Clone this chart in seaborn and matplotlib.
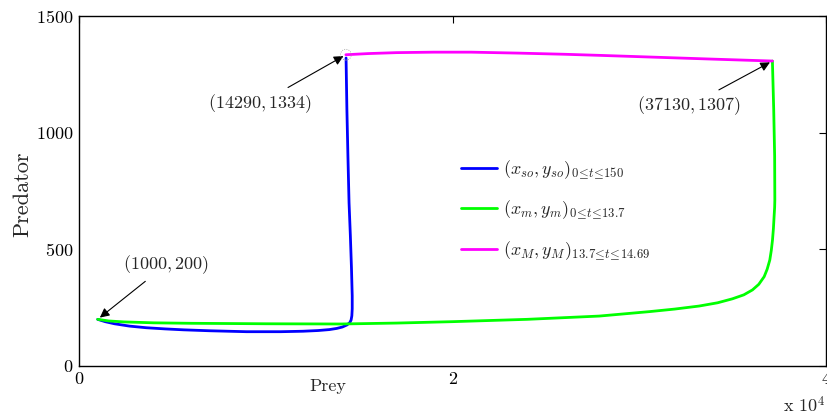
import numpy as np
import pandas as pd
import matplotlib
matplotlib.use("Agg")
import matplotlib.pyplot as plt
import seaborn as sns

# Trajectory of the sustained (so) system, 0 <= t <= 150
so_prey = [1000, 1400, 1900, 2700, 3600, 4600, 5600, 7000, 8970, 10800, 12000,
           12800, 13400, 13800, 14100, 14350, 14500, 14570, 14610, 14630,
           14630, 14590, 14530, 14460, 14400, 14345, 14300]
so_pred = [200, 190, 181, 171, 164, 159, 155, 151, 147, 147, 149,
           152, 156, 161, 167, 176, 186, 197, 215, 245,
           300, 420, 560, 700, 900, 1100, 1320]

# Minimal-trajectory branch, 0 <= t <= 13.7
m_prey = [1000, 1600, 2400, 4000, 6000, 10000, 14000, 17000, 20000, 24000,
          27860, 30540, 31900, 33210, 34200, 34990, 35600, 36060, 36400,
          36690, 36850, 36990, 37070, 37135, 37185, 37220, 37250, 37260,
          37250, 37200, 37130]
m_pred = [200, 193, 189, 185, 183, 181, 180, 184, 190, 200,
          214, 233, 244, 257, 271, 288, 305, 326, 350,
          383, 415, 454, 495, 540, 590, 640, 680, 711,
          900, 1100, 1307]

# Maximal branch, 13.7 <= t <= 14.69
M_prey = [14290, 15500, 17000, 19000, 21000, 23500, 26000, 28000, 31000, 34000, 37130]
M_pred = [1334, 1339, 1343, 1345, 1345, 1341, 1336, 1331, 1323, 1315, 1307]

labels = [r"$(x_{so},y_{so})_{0\!\leq\!t\!\leq\!150}$",
          r"$(x_m,y_m)_{0\!\leq\!t\!\leq\!13.7}$",
          r"$(x_M,y_M)_{13.7\!\leq\!t\!\leq\!14.69}$"]
colors = ["#0000ff", "#00ff00", "#ff00ff"]

x_ticks = [0, 20000, 40000]
x_tick_labels = ["0", "2", "4"]
y_ticks = [0, 500, 1000, 1500]

sns.set_theme(style="white")
plt.rcParams["font.family"] = ["serif"]
plt.rcParams["font.serif"] = ["cmr10", "DejaVu Serif"]
plt.rcParams["mathtext.fontset"] = "cm"
plt.rcParams["axes.formatter.use_mathtext"] = True

fig = plt.figure(figsize=(8.27, 4.17), dpi=100)
ax = fig.add_axes([79 / 827, 51 / 417, 747 / 827, 350 / 417])

frames = [
    pd.DataFrame({"x": so_prey, "y": so_pred}),
    pd.DataFrame({"x": m_prey, "y": m_pred}),
    pd.DataFrame({"x": M_prey, "y": M_pred}),
]
for df, lab, col in zip(frames, labels, colors):
    sns.lineplot(data=df, x="x", y="y", sort=False, estimator=None,
                 color=col, lw=2.0, label=lab, ax=ax)

ax.set_xlim(0, 40000)
ax.set_ylim(0, 1500)
ax.set_xticks(x_ticks)
ax.set_xticklabels(x_tick_labels)
ax.set_yticks(y_ticks)
ax.tick_params(direction="in", length=5, width=0.8, top=True, right=True,
               labelsize=13, colors="black", pad=4)
for s in ax.spines.values():
    s.set_color("black")
    s.set_linewidth(1.0)

ax.set_xlabel("Prey", fontsize=13)
ax.set_ylabel("Predator", fontsize=16)
ax.xaxis.set_label_coords(0.333, -0.035)
ax.yaxis.set_label_coords(-0.062, 0.49)

arrow = dict(arrowstyle="-|>", color="black", lw=0.8, mutation_scale=14,
             shrinkA=2, shrinkB=2)
ax.annotate(r"$(14290,1334)$", xy=(14290, 1334), xytext=(9680, 1125),
            fontsize=13, ha="center", va="center", arrowprops=arrow)
ax.annotate(r"$(37130,1307)$", xy=(37130, 1307), xytext=(32680, 1115),
            fontsize=13, ha="center", va="center", arrowprops=arrow)
ax.annotate(r"$(1000,200)$", xy=(1000, 200), xytext=(4650, 433),
            fontsize=13, ha="center", va="center", arrowprops=arrow)
ax.scatter([14290], [1334], s=60, facecolors="none", edgecolors="0.6",
           linestyles=":", linewidths=0.6, zorder=5)

leg = ax.legend(loc="upper left", bbox_to_anchor=(0.49, 0.64), frameon=False,
                fontsize=13, handlelength=2.0, handletextpad=0.3,
                labelspacing=1.0)

fig.text(804 / 827, 1 - 405 / 417, r"x 10$^4$", fontsize=13, ha="center",
         va="center")

fig.savefig("out.png", dpi=100)
